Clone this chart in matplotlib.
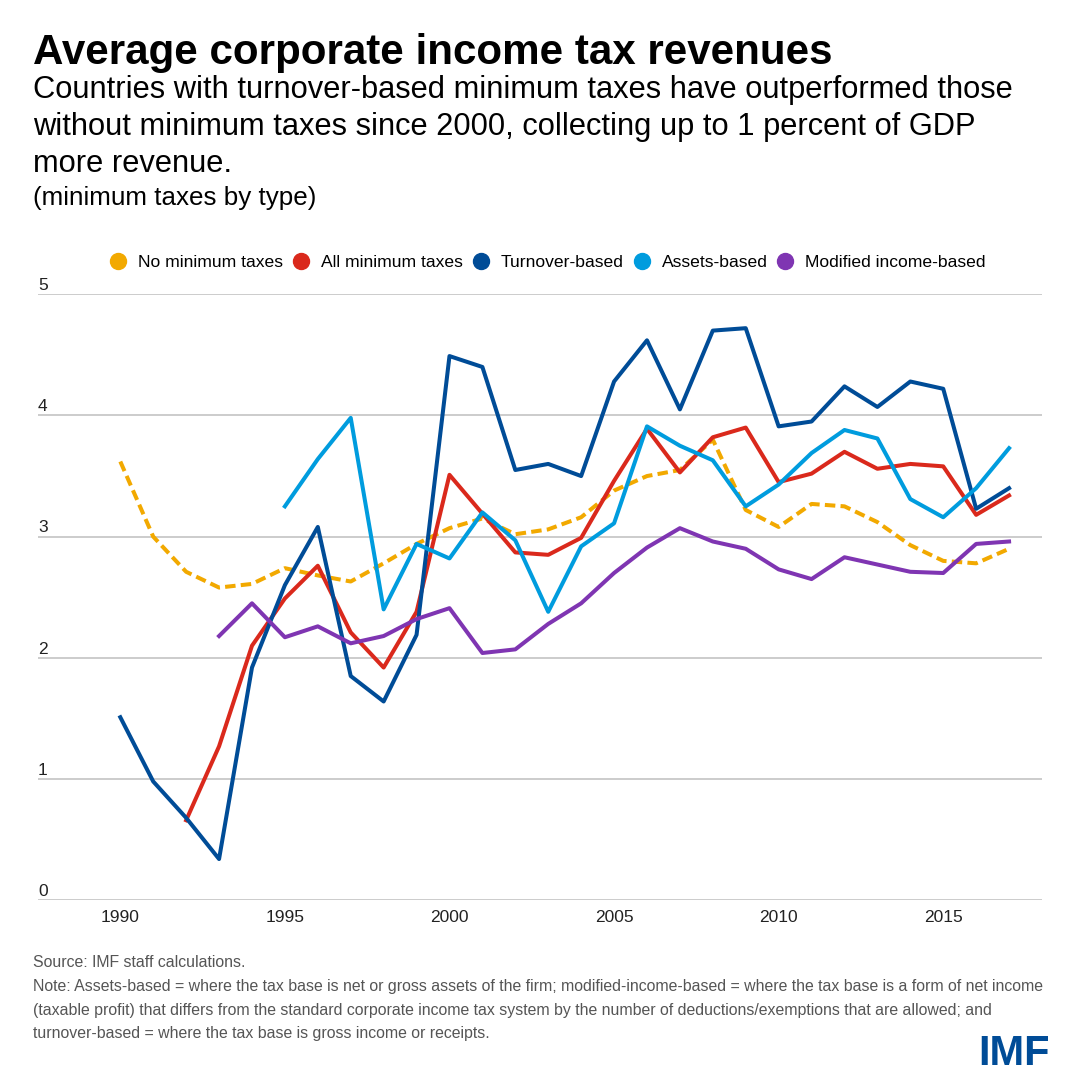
import matplotlib
matplotlib.use('Agg')
import matplotlib.pyplot as plt
from matplotlib.lines import Line2D

plt.rcParams['font.family'] = ['Liberation Sans', 'DejaVu Sans']

years = list(range(1990, 2018))

# values (percent of GDP); None = no data
no_min = [3.62, 3.00, 2.71, 2.58, 2.61, 2.74, 2.68, 2.63, 2.78, 2.94,
          3.07, 3.15, 3.02, 3.06, 3.16, 3.38, 3.50, 3.55, 3.80, 3.22,
          3.08, 3.27, 3.25, 3.12, 2.93, 2.80, 2.78, 2.90]
all_min = [None, None, 0.66, 1.27, 2.10, 2.49, 2.76, 2.21, 1.92, 2.38,
           3.51, 3.19, 2.87, 2.85, 2.99, 3.46, 3.89, 3.53, 3.82, 3.90,
           3.45, 3.52, 3.70, 3.56, 3.60, 3.58, 3.18, 3.34]
turnover = [1.51, 0.98, 0.68, 0.34, 1.92, 2.60, 3.08, 1.85, 1.64, 2.19,
            4.49, 4.40, 3.55, 3.60, 3.50, 4.28, 4.62, 4.05, 4.70, 4.72,
            3.91, 3.95, 4.24, 4.07, 4.28, 4.22, 3.23, 3.40]
assets = [None, None, None, None, None, 3.25, 3.64, 3.98, 2.40, 2.94,
          2.82, 3.20, 2.97, 2.38, 2.92, 3.11, 3.91, 3.75, 3.63, 3.25,
          3.43, 3.69, 3.88, 3.81, 3.31, 3.16, 3.40, 3.73]
modified = [None, None, None, 2.18, 2.45, 2.17, 2.26, 2.12, 2.18, 2.32,
            2.41, 2.04, 2.07, 2.28, 2.45, 2.70, 2.91, 3.07, 2.96, 2.90,
            2.73, 2.65, 2.83, 2.77, 2.71, 2.70, 2.94, 2.96]

labels = ['No minimum taxes', 'All minimum taxes', 'Turnover-based',
          'Assets-based', 'Modified income-based']
colors = ['#F2A900', '#DA291C', '#004C97', '#009CDE', '#7F35B2']

yticks = [0, 1, 2, 3, 4, 5]
xticks = [1990, 1995, 2000, 2005, 2010, 2015]

subtitle = ['Countries with turnover-based minimum taxes have outperformed those',
            'without minimum taxes since 2000, collecting up to 1 percent of GDP',
            'more revenue.']
notes = ['Source: IMF staff calculations.',
         'Note: Assets-based = where the tax base is net or gross assets of the firm; '
         'modified-income-based = where the tax base is a form of net income',
         '(taxable profit) that differs from the standard corporate income tax system '
         'by the number of deductions/exemptions that are allowed; and',
         'turnover-based = where the tax base is gross income or receipts.']


def clean(vals):
    return [float('nan') if v is None else v for v in vals]


def fy(px):
    return 1 - px / 1081


fig = plt.figure(figsize=(10.8, 10.81), dpi=100)
ax = fig.add_axes([0.0352, 0.1672, 0.9296, 0.5606])

for y in yticks:
    ax.axhline(y, color='#BFBFBF', lw=1.1, zorder=1)
    ax.text(0.0, y + 0.035, str(y), transform=ax.get_yaxis_transform(),
            ha='left', va='baseline', fontsize=12.5, color='#222222')

series = [no_min, all_min, turnover, assets, modified]
for vals, lab, col in zip(series, labels, colors):
    if lab == 'No minimum taxes':
        ax.plot(years, clean(vals), color=col, lw=2.9, dashes=(2.6, 1.3),
                zorder=3)
    else:
        ax.plot(years, clean(vals), color=col, lw=2.9, zorder=3)

ax.set_xlim(1987.5, 2018)
ax.set_ylim(0, 5)
ax.set_xticks(xticks)
ax.set_xticklabels([str(x) for x in xticks], fontsize=12.5, color='#222222')
ax.tick_params(axis='x', length=0, pad=7)
ax.set_yticks([])
for s in ax.spines.values():
    s.set_visible(False)

handles = [Line2D([], [], marker='o', ls='none', ms=11.5, color=c) for c in colors]
fig.legend(handles, labels, loc='center', bbox_to_anchor=(0.507, fy(262)),
           ncol=5, frameon=False, fontsize=12.6, handletextpad=0.64,
           columnspacing=0.53, handlelength=1.0)

fig.text(33 / 1080, fy(64.5), 'Average corporate income tax revenues',
         fontsize=30.3, fontweight='bold', va='baseline', ha='left')
for i, line in enumerate(subtitle):
    fig.text(33 / 1080, fy(98.3 + 36.7 * i), line,
             fontsize=22.2, va='baseline', ha='left')
fig.text(33 / 1080, fy(205), '(minimum taxes by type)',
         fontsize=18.7, va='baseline', ha='left')

for i, line in enumerate(notes):
    fig.text(33 / 1080, fy(967 + 23.8 * i), line,
             fontsize=11.45, color='#555555', va='baseline', ha='left')

fig.text(1050 / 1080, fy(1065), 'IMF', fontsize=30, fontweight='bold',
         color='#004C97', ha='right', va='baseline')

fig.savefig('out.png', dpi=100)
